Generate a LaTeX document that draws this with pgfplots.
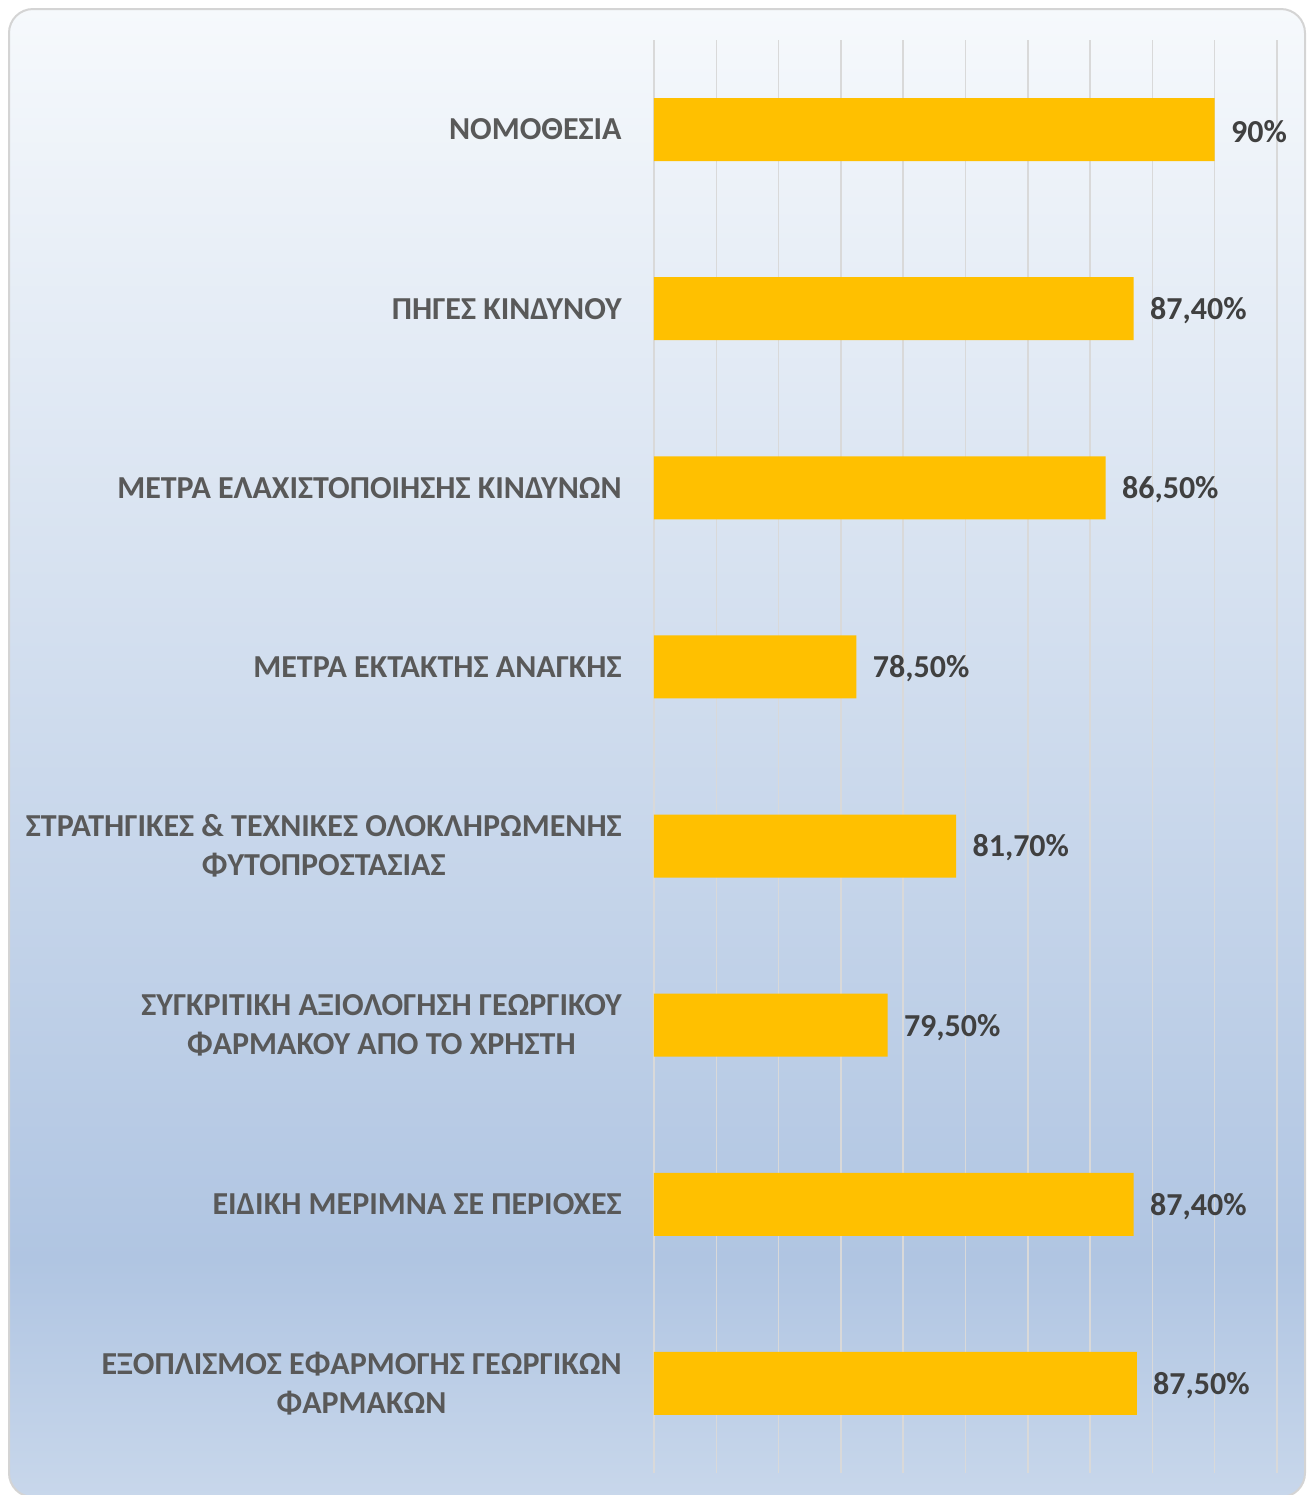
\documentclass[border=0pt]{standalone}
\usepackage{pgfplots}
\pgfplotsset{compat=1.18}
\usepackage{fontspec}
\setmainfont{Carlito}

\definecolor{barc}{HTML}{FFC000}
\definecolor{gridc}{HTML}{D9D9D9}
\definecolor{labc}{HTML}{595959}
\definecolor{valc}{HTML}{404040}
\definecolor{framec}{HTML}{D4D4D4}
\definecolor{bgtop}{HTML}{F6F9FC}
\definecolor{bgdark}{HTML}{B0C5E2}
\definecolor{bgbot}{HTML}{C8D7EB}

% background gradient: light at the top, darkest near the bottom
\pgfdeclareverticalshading{bgshade}{100bp}{color(0bp)=(bgbot); color(25bp)=(bgbot);
  color(33bp)=(bgdark); color(75bp)=(bgtop); color(100bp)=(bgtop)}

\newcommand{\lblfont}{\fontsize{16}{19.5}\selectfont\bfseries}

\begin{document}
\begin{tikzpicture}
\useasboundingbox (0,0) rectangle (654pt,-747.5pt);
\shadedraw[shading=bgshade, draw=framec, line width=1pt, rounded corners=12pt]
  (4.5pt,-4.5pt) rectangle (652.5pt,-748.5pt);

\begin{axis}[
    at={(327pt,-20pt)}, anchor=north west,
    scale only axis, width=311.5pt, height=716.5pt,
    xbar, bar width=31.5pt,
    xmin=72, xmax=92, ymin=-0.5, ymax=7.5, y dir=reverse,
    xtick={72,74,...,92}, xticklabels={},
    ytick={0,...,7},
    yticklabels={
        {ΝΟΜΟΘΕΣΙΑ},
        {ΠΗΓΕΣ ΚΙΝΔΥΝΟΥ},
        {ΜΕΤΡΑ ΕΛΑΧΙΣΤΟΠΟΙΗΣΗΣ ΚΙΝΔΥΝΩΝ},
        {ΜΕΤΡΑ ΕΚΤΑΚΤΗΣ ΑΝΑΓΚΗΣ},
        {ΣΤΡΑΤΗΓΙΚΕΣ \& ΤΕΧΝΙΚΕΣ ΟΛΟΚΛΗΡΩΜΕΝΗΣ\\ΦΥΤΟΠΡΟΣΤΑΣΙΑΣ},
        {ΣΥΓΚΡΙΤΙΚΗ ΑΞΙΟΛΟΓΗΣΗ ΓΕΩΡΓΙΚΟΥ\\ΦΑΡΜΑΚΟΥ ΑΠ\symbol{"038C} ΤΟ ΧΡΗΣΤΗ},
        {ΕΙΔΙΚΗ ΜΕΡΙΜΝΑ ΣΕ ΠΕΡΙΟΧΕΣ},
        {ΕΞΟΠΛΙΣΜΟΣ ΕΦΑΡΜΟΓΗΣ ΓΕΩΡΓΙΚΩΝ\\ΦΑΡΜΑΚΩΝ}},
    major tick length=0pt,
    axis line style={draw=none},
    xmajorgrids, major grid style={draw=gridc, line width=0.75pt},
    yticklabel style={font=\lblfont, text=labc, align=center, inner sep=0pt, xshift=-16pt},
    nodes near coords, point meta=explicit symbolic,
    every node near coord/.append style={font=\lblfont, text=valc, inner sep=0pt, anchor=west, xshift=8pt, yshift=-1pt},
]
\addplot[fill=barc, draw=none] coordinates {
    (90,0)   [{90\%}]
    (87.4,1) [{87,40\%}]
    (86.5,2) [{86,50\%}]
    (78.5,3) [{78,50\%}]
    (81.7,4) [{81,70\%}]
    (79.5,5) [{79,50\%}]
    (87.4,6) [{87,40\%}]
    (87.5,7) [{87,50\%}]
};
\end{axis}
\end{tikzpicture}
\end{document}
